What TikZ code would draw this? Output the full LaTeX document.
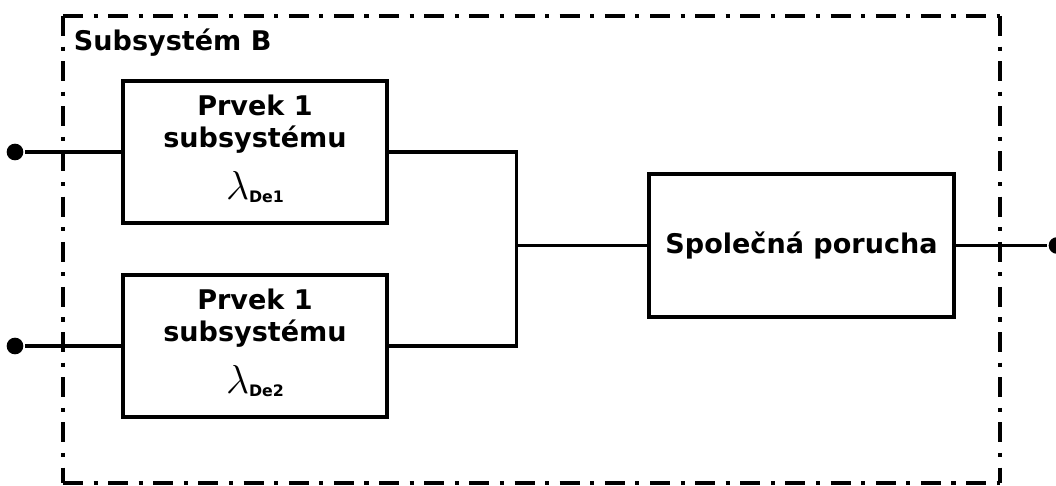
\RequirePackage{fix-cm}
\documentclass[tikz,border=0pt]{standalone}
\usepackage{fontspec}
\setmainfont{DejaVu Sans}

\newcommand{\failrate}[1]{{\fontsize{23}{24}\selectfont$\lambda$}\raisebox{-2pt}{\fontsize{9}{10}\selectfont\bfseries #1}}

\begin{document}
\begin{tikzpicture}[x = 0.02cm, y = -0.02cm, line width = 2.2pt]
        \tikzstyle{block} = [shape = rectangle, draw, align = center, minimum width = 5.27cm, minimum height = 2.85cm, inner sep = 0pt, font = \fontsize{15.4}{18.2}\selectfont\bfseries]
        \tikzstyle{terminal} = [shape = circle, fill, minimum size = 9.5pt, inner sep = 0pt]
        \tikzstyle{boundary} = [line width = 2.7pt, dash pattern = on 11.4pt off 6pt on 2.3pt off 6pt]
        \useasboundingbox (0, 0) rectangle (1056, 486);
        \draw[boundary] (63, 16) -- (1000, 16);
        \draw[boundary] (63, 483) -- (1000, 483);
        \draw[boundary] (63, 16) -- (63, 483);
        \draw[boundary] (1000, 16) -- (1000, 483);
        \node[anchor = base west, inner sep = 0pt, font = \fontsize{15.4}{18}\selectfont\bfseries] (title) at (72, 51) {Subsystém B};
        \node[block] (b1) at (255, 152) {Prvek 1\\subsystému\\[9pt]\failrate{De1}\rule[-5.4pt]{0pt}{0pt}};
        \node[block] (b2) at (255, 346) {Prvek 1\\subsystému\\[9pt]\failrate{De2}\rule[-5.4pt]{0pt}{0pt}};
        \node[block, minimum width = 6.11cm] (b3) at (801.5, 245.5) {Společná porucha};
        \node[terminal] (in1) at (15, 152) {};
        \node[terminal] (in2) at (15, 346) {};
        \node[terminal] (out) at (1057, 245.5) {};
        \coordinate (join) at (516.5, 245.5);
        \draw[] (in1) -- (b1.west);
        \draw[] (in2) -- (b2.west);
        \draw[] (b1.east) -| (join) |- (b2.east);
        \draw[] (join) -- (b3.west);
        \draw[] (b3.east) -- (out);
      \end{tikzpicture}
\end{document}
